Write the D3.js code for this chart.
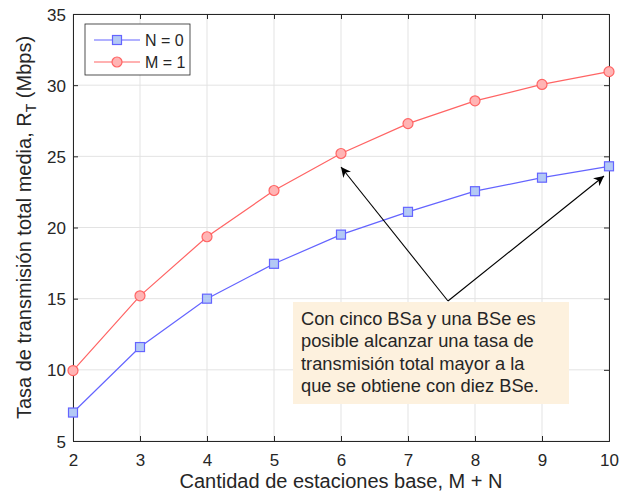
<!DOCTYPE html>
<html>
<head>
<meta charset="utf-8">
<script src="https://cdn.jsdelivr.net/npm/d3@7"></script>
<style>
  body { margin: 0; background: #fff; }
  text { font-family: "Liberation Sans", Arial, sans-serif; fill: #262626; }
</style>
</head>
<body>
<script>
const baseStations = [2, 3, 4, 5, 6, 7, 8, 9, 10];
const rateN0 = [7.0, 11.6, 15.0, 17.45, 19.5, 21.1, 22.55, 23.5, 24.3];
const rateM1 = [9.95, 15.2, 19.35, 22.6, 25.2, 27.3, 28.9, 30.05, 30.95];
const yTicks = [5, 10, 15, 20, 25, 30, 35];
const noteLines = [
  "Con cinco BSa y una BSe es",
  "posible alcanzar una tasa de",
  "transmisión total mayor a la",
  "que se obtiene con diez BSe."
];

function main() {
  const W = 630, H = 493;
  const margin = {left: 73, right: 21, top: 14, bottom: 52};
  const width = W - margin.left - margin.right;
  const height = H - margin.top - margin.bottom;

  const svg = d3.select("body").append("svg")
    .attr("width", W)
    .attr("height", H);

  const x = d3.scaleLinear().domain([2, 10]).range([0, width]);
  const y = d3.scaleLinear().domain([5, 35]).range([height, 0]);

  const g = svg.append("g")
    .attr("transform", "translate(" + margin.left + "," + margin.top + ")");

  // grid
  g.append("g").selectAll("line").data(baseStations).join("line")
    .attr("x1", d => x(d)).attr("x2", d => x(d))
    .attr("y1", 0).attr("y2", height)
    .attr("stroke", "#e3e3e3").attr("stroke-width", 1);
  g.append("g").selectAll("line").data(yTicks).join("line")
    .attr("x1", 0).attr("x2", width)
    .attr("y1", d => y(d)).attr("y2", d => y(d))
    .attr("stroke", "#e3e3e3").attr("stroke-width", 1);

  // axes (ticks inward, box on)
  const axisColor = "#262626";
  const bottom = g.append("g").attr("transform", "translate(0," + height + ")")
    .call(d3.axisBottom(x).tickValues(baseStations).tickSize(-5).tickPadding(13).tickFormat(d3.format("d")));
  const top = g.append("g")
    .call(d3.axisTop(x).tickValues(baseStations).tickSize(-5).tickFormat(""));
  const left = g.append("g")
    .call(d3.axisLeft(y).tickValues(yTicks).tickSize(-5).tickPadding(7));
  const right = g.append("g").attr("transform", "translate(" + width + ",0)")
    .call(d3.axisRight(y).tickValues(yTicks).tickSize(-5).tickFormat(""));
  [bottom, top, left, right].forEach(a => {
    a.select(".domain").attr("stroke", axisColor);
    a.selectAll(".tick line").attr("stroke", axisColor);
    a.selectAll("text").attr("font-size", 17).attr("fill", axisColor)
      .attr("font-family", "Liberation Sans, Arial, sans-serif");
  });
  left.selectAll("text").attr("dy", "0.36em");

  const line = d3.line().x((d, i) => x(baseStations[i])).y(d => y(d));

  // series N = 0
  g.append("path").datum(rateN0)
    .attr("fill", "none").attr("stroke", "#6464ff").attr("stroke-width", 1.2)
    .attr("d", line);
  g.selectAll(".sq").data(rateN0).join("rect")
    .attr("x", (d, i) => x(baseStations[i]) - 4.5)
    .attr("y", d => y(d) - 4.5)
    .attr("width", 9).attr("height", 9)
    .attr("fill", "#b3c9f5").attr("stroke", "#6464ff").attr("stroke-width", 1.2);

  // series M = 1
  g.append("path").datum(rateM1)
    .attr("fill", "none").attr("stroke", "#ff6464").attr("stroke-width", 1.2)
    .attr("d", line);
  g.selectAll(".ci").data(rateM1).join("circle")
    .attr("cx", (d, i) => x(baseStations[i]))
    .attr("cy", d => y(d))
    .attr("r", 5)
    .attr("fill", "#ffb4b4").attr("stroke", "#ff6464").attr("stroke-width", 1.2);

  // annotation arrows
  const defs = svg.append("defs");
  defs.append("marker").attr("id", "ah")
    .attr("viewBox", "0 0 10 10").attr("refX", 10).attr("refY", 5)
    .attr("markerWidth", 10).attr("markerHeight", 10)
    .attr("markerUnits", "userSpaceOnUse")
    .attr("orient", "auto")
    .append("path").attr("d", "M0,0 L10,5 L0,10 L3,5 Z").attr("fill", "#000");

  const start = [448, 301];
  const tips = [[341, 167], [604, 176]];
  tips.forEach(t => {
    svg.append("line")
      .attr("x1", start[0]).attr("y1", start[1])
      .attr("x2", t[0]).attr("y2", t[1])
      .attr("stroke", "#000").attr("stroke-width", 1.1)
      .attr("marker-end", "url(#ah)");
  });

  // note box
  svg.append("rect")
    .attr("x", 293).attr("y", 302).attr("width", 276).attr("height", 102)
    .attr("fill", "#fdf1de");
  svg.append("g").selectAll("text").data(noteLines).join("text")
    .attr("x", 301)
    .attr("y", (d, i) => 325 + i * 22.3)
    .attr("font-size", 18.3)
    .attr("fill", "#000")
    .text(d => d);

  // legend
  const lg = svg.append("g");
  lg.append("rect").attr("x", 85).attr("y", 24).attr("width", 105).attr("height", 51)
    .attr("fill", "#fff").attr("stroke", "#262626").attr("stroke-width", 0.8);
  const legendItems = [
    {name: "N = 0", color: "#6464ff", fill: "#b3c9f5", shape: "sq"},
    {name: "M = 1", color: "#ff6464", fill: "#ffb4b4", shape: "ci"}
  ];
  legendItems.forEach((it, i) => {
    const cy = 40 + i * 22;
    lg.append("line").attr("x1", 94).attr("x2", 140).attr("y1", cy).attr("y2", cy)
      .attr("stroke", it.color).attr("stroke-width", 1.2);
    if (it.shape === "sq") {
      lg.append("rect").attr("x", 117 - 4.5).attr("y", cy - 4.5).attr("width", 9).attr("height", 9)
        .attr("fill", it.fill).attr("stroke", it.color).attr("stroke-width", 1.2);
    } else {
      lg.append("circle").attr("cx", 117).attr("cy", cy).attr("r", 5)
        .attr("fill", it.fill).attr("stroke", it.color).attr("stroke-width", 1.2);
    }
    lg.append("text").attr("x", 145).attr("y", cy + 6).attr("font-size", 16)
      .attr("fill", "#000").text(it.name);
  });

  // axis labels
  svg.append("text")
    .attr("x", margin.left + width / 2).attr("y", 488)
    .attr("text-anchor", "middle").attr("font-size", 20)
    .text("Cantidad de estaciones base, M + N");

  const yl = svg.append("text")
    .attr("transform", "translate(31," + (margin.top + height / 2) + ") rotate(-90)")
    .attr("text-anchor", "middle").attr("font-size", 20);
  yl.append("tspan").text("Tasa de transmisión total media, R");
  yl.append("tspan").attr("font-size", 14).attr("dy", 5).text("T");
  yl.append("tspan").attr("dy", -5).text(" (Mbps)");
}
main();
</script>
</body>
</html>
